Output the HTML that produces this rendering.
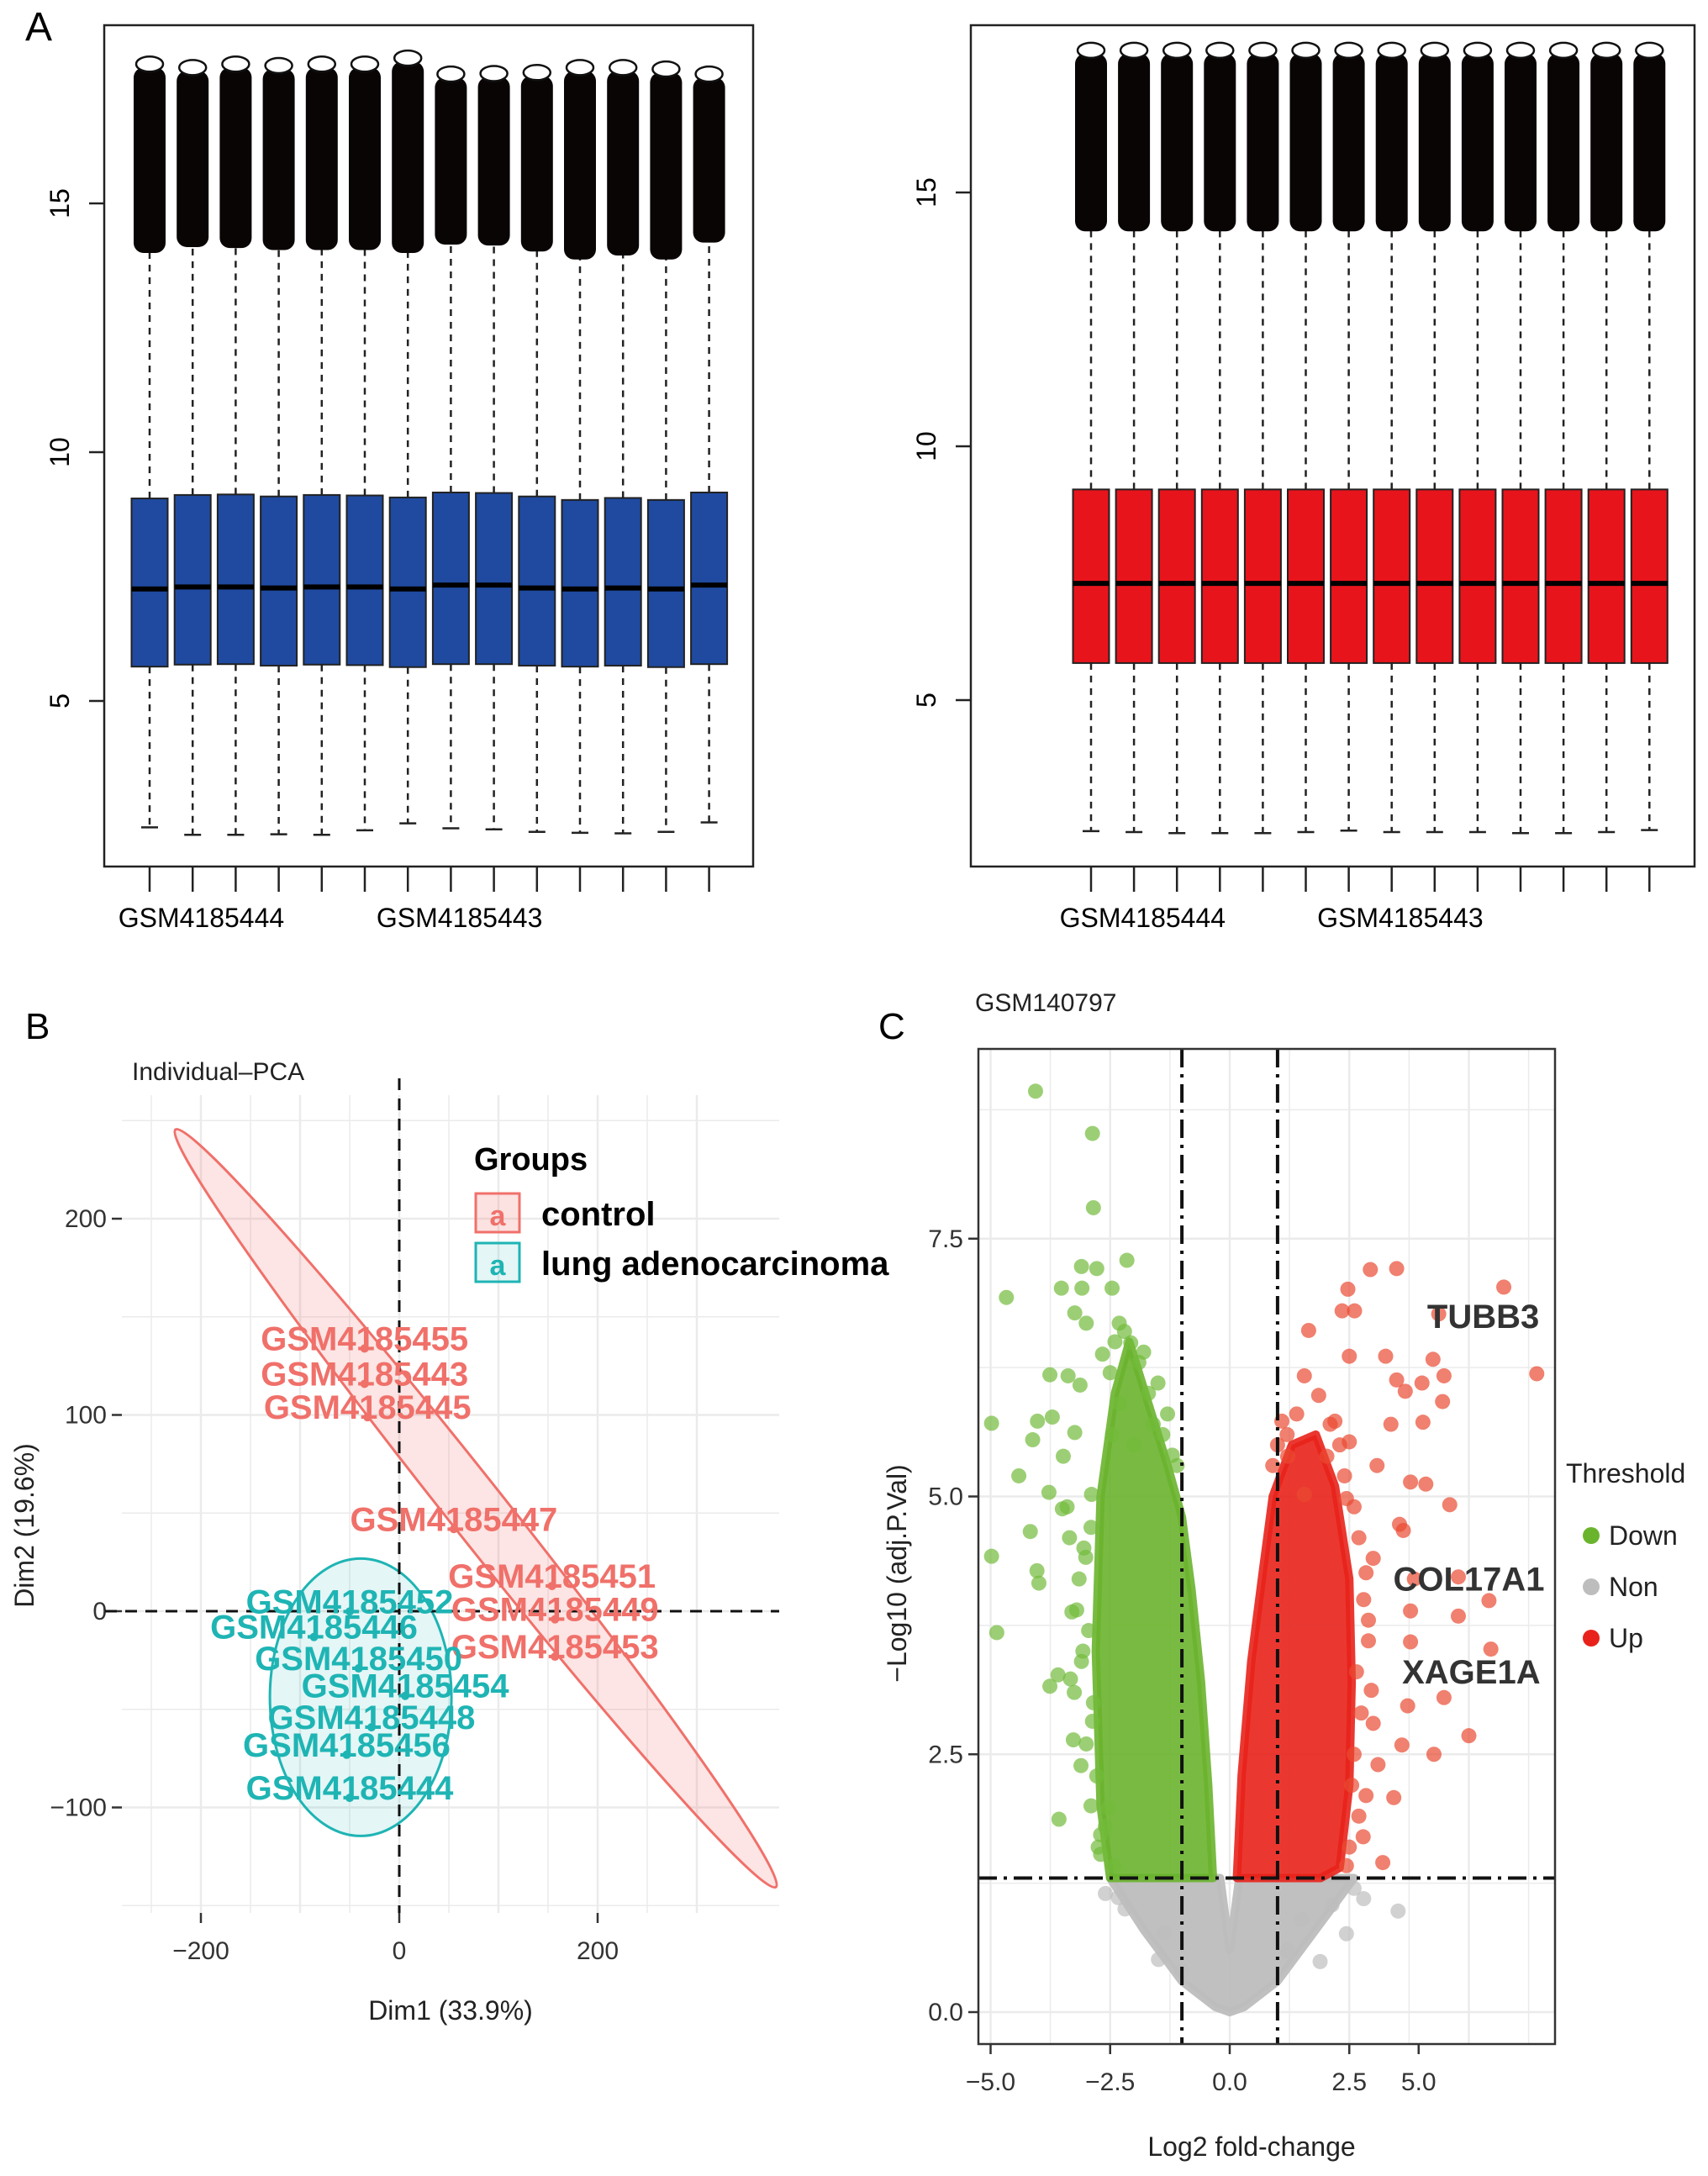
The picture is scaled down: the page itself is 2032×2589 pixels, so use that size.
<!DOCTYPE html>
<html><head><meta charset="utf-8">
<style>
html,body{margin:0;padding:0;background:#fff;}
svg{display:block;font-family:"Liberation Sans",sans-serif;}
</style></head>
<body>
<svg id="fig" width="2032" height="2589" viewBox="0 0 2032 2589" xmlns="http://www.w3.org/2000/svg">
<text x="30" y="48" font-size="48">A</text>
<text x="30" y="1236" font-size="44">B</text>
<text x="1045" y="1236" font-size="44">C</text>
<g id="boxL"></g>
<g id="boxR"></g>
<g id="pca"></g>
<g id="volc"></g>
</svg>
<script>
// ---------- Panel A data ----------
const boxSamples = ["S1","S2","S3","S4","S5","S6","S7","S8","S9","S10","S11","S12","S13","S14"];
const rawQ1 = [5.69,5.73,5.74,5.71,5.73,5.72,5.68,5.74,5.74,5.71,5.69,5.71,5.68,5.74];
const rawMed = [7.25,7.29,7.29,7.27,7.29,7.29,7.25,7.33,7.33,7.27,7.25,7.27,7.25,7.33];
const rawQ3 = [9.07,9.14,9.15,9.11,9.14,9.13,9.09,9.19,9.18,9.11,9.04,9.08,9.04,9.19];
const rawLow = [2.46,2.31,2.31,2.32,2.31,2.40,2.54,2.44,2.42,2.37,2.35,2.34,2.37,2.56];
const rawOutMin = [14.07,14.19,14.17,14.13,14.13,14.13,14.07,14.24,14.22,14.10,13.94,14.02,13.94,14.28];
const rawOutMax = [17.80,17.73,17.80,17.77,17.80,17.80,17.92,17.60,17.61,17.63,17.73,17.73,17.70,17.60];
const normQ1 = [5.73,5.73,5.73,5.73,5.73,5.73,5.73,5.73,5.73,5.73,5.73,5.73,5.73,5.73];
const normMed = [7.30,7.30,7.30,7.30,7.30,7.30,7.30,7.30,7.30,7.30,7.30,7.30,7.30,7.30];
const normQ3 = [9.15,9.15,9.15,9.15,9.15,9.15,9.15,9.15,9.15,9.15,9.15,9.15,9.15,9.15];
const normLow = [2.42,2.40,2.38,2.38,2.38,2.40,2.43,2.40,2.40,2.40,2.38,2.38,2.40,2.44];
const normOutMin = [14.30,14.30,14.30,14.30,14.30,14.30,14.30,14.30,14.30,14.30,14.30,14.30,14.30,14.30];
const normOutMax = [17.80,17.80,17.80,17.80,17.80,17.80,17.80,17.80,17.80,17.80,17.80,17.80,17.80,17.80];
const boxYTicks = [5,10,15];
const boxXLabels = ["GSM4185444","GSM4185443"];
const boxXLabelIdx = [1.2,7.2];

// ---------- Panel B data ----------
const pcaSamples = ["GSM4185455","GSM4185443","GSM4185445","GSM4185447","GSM4185451","GSM4185449","GSM4185453","GSM4185452","GSM4185446","GSM4185450","GSM4185454","GSM4185448","GSM4185456","GSM4185444"];
const pcaGroup = ["c","c","c","c","c","c","c","l","l","l","l","l","l","l"];
const pcaDim1 = [-35,-35,-32,55,154,157,157,-50,-86,-41,6,-28,-53,-50];
const pcaDim2 = [139,121,104,47,18,1,-18,5,-8,-24,-38,-54,-68,-90];
const pcaXTicks = [-200,0,200];
const pcaYTicks = [-100,0,100,200];

// ---------- Panel C data ----------
const volcXTicks = [-5,-2.5,0,2.5,3.95];
const volcXTickLabels = ["-5.0","-2.5","0.0","2.5","5.0"];
const volcYTicks = [0,2.5,5,7.5];
const downX = [-4.06,-2.87,-2.85,-2.15,-3.1,-2.78,-4.67,-3.52,-3.09,-2.46,-3.24,-3.0,-3.76,-3.38,-4.98,-4.02,-4.12,-4.41,-3.78,-3.5,-4.17,-4.98,-4.03,-3.99,-4.87,-3.59,-3.76,-3.33,-2.87,-3.27,-3.11,-3.57,-2.7,-2.7,-2.42,-3.71,-3.24,-3.48,-3.13,-2.66,-3.01,-3.3,-3.07,-2.78,-2.54,-2.31,-2.07,-2.89,
 -2.9,-3.05,-3.15,-3.2,-2.95,-3.1,-2.85,-3.25,-3.0,-2.9,-2.75,-2.6,-3.4,-3.35,-2.5,-2.4,-2.2,-1.9,-1.7,-1.5,-1.3,-1.6,-1.8,-2.3,-2.45,-2.0,-1.4,-1.2,-1.1];
const downY = [8.93,8.52,7.8,7.29,7.23,7.21,6.93,7.02,7.02,7.02,6.78,6.68,6.18,6.17,5.71,5.73,5.55,5.2,5.04,4.88,4.66,4.42,4.28,4.16,3.68,3.27,3.16,3.23,2.82,2.64,2.39,1.87,1.72,1.53,1.42,5.77,5.62,5.39,6.08,6.38,4.41,3.88,3.5,2.29,1.98,6.68,6.49,5.02,
 4.7,4.5,4.2,3.9,3.7,3.4,3.0,3.1,2.6,2.0,1.6,1.8,4.9,4.6,6.2,6.5,6.6,6.3,6.0,6.1,5.8,5.7,6.4,5.9,5.6,5.5,5.6,5.4,5.3];
const upX = [5.73,6.42,5.42,5.46,2.94,3.49,2.47,2.35,2.61,4.37,1.65,4.25,4.48,4.02,3.49,2.5,3.26,1.56,1.86,3.67,4.45,4.04,2.2,2.5,3.37,1.09,3.08,3.78,4.1,4.6,2.44,3.55,3.63,3.86,4.78,3.78,4.78,3.78,4.48,3.72,5.0,4.27,3.6,3.43,2.79,3.2,2.44,2.96,2.85,2.03,1.21,1.56,
 2.7,2.8,2.9,2.65,2.75,3.0,2.6,2.55,2.85,3.1,2.7,2.5,2.9,3.0,2.6,1.0,1.2,1.4,0.9,2.3,2.1,2.4];
const upY = [7.03,6.19,3.99,3.52,7.2,7.21,7.01,6.8,6.8,6.77,6.61,6.33,6.17,6.1,6.13,6.36,6.36,6.17,5.98,6.02,5.92,5.72,5.73,5.53,5.7,5.73,5.3,5.14,5.12,4.92,4.98,4.73,4.67,4.2,4.22,3.89,3.84,3.59,3.05,2.97,2.68,2.5,2.59,2.08,1.7,1.45,1.42,3.12,4.26,5.39,5.39,5.02,
 4.6,4.0,3.6,3.3,2.9,2.8,2.5,2.2,2.1,2.4,1.9,1.6,3.8,4.4,4.9,5.5,5.6,5.8,5.3,5.5,5.7,5.2];
const nonX = [3.52,2.44,1.89,2.14,-2.19,-2.33,-1.49,-1.37,2.6,2.8,-2.6,1.5,1.2,-1.0];
const nonY = [0.98,0.76,0.49,1.04,1.0,1.11,0.51,0.77,1.2,1.1,1.15,0.9,0.6,0.4];
const downCoreX = [-0.35,-0.45,-0.6,-0.8,-1.0,-1.3,-1.7,-2.1,-2.4,-2.7,-2.8,-2.7,-2.5];
const downCoreY = [1.3,2.2,3.2,4.1,4.8,5.3,5.9,6.5,6.0,5.0,3.5,2.0,1.3];
const upCoreX = [0.15,0.25,0.45,0.7,0.9,1.3,1.8,2.2,2.5,2.55,2.5,2.3,1.9];
const upCoreY = [1.3,2.3,3.4,4.3,5.0,5.5,5.6,5.1,4.2,3.2,2.2,1.4,1.3];
const nonCoreX = [-2.5,-0.2,0,0.2,2.6,1.8,1.0,0.3,0,-0.3,-1.0,-1.8];
const nonCoreY = [1.3,1.3,0.6,1.3,1.3,0.8,0.3,0.05,0,0.05,0.3,0.8];
const geneLabels = ["TUBB3","COL17A1","XAGE1A"];
const geneX = [5.3,5.0,5.05];
const geneY = [6.75,4.2,3.3];

const NS="http://www.w3.org/2000/svg";
function mk(parent, tag, attrs, text){
  const e=document.createElementNS(NS,tag);
  for(const k in attrs) e.setAttribute(k,attrs[k]);
  if(text!==undefined) e.textContent=text;
  parent.appendChild(e); return e;
}

// ---------- Panel A ----------
function drawBox(gid, box, y10, unit, x0, dx, fill, q1,med,q3,low,omin,omax){
  const g=document.getElementById(gid);
  const Y=v=>y10-(v-10)*unit;
  const X=i=>x0+i*dx;
  const frame=mk(g,'rect',{x:box[0],y:box[1],width:box[2]-box[0],height:box[3]-box[1],fill:'none',stroke:'#222','stroke-width':2.5});
  
  
  boxYTicks.forEach(t=>{
    const y=Y(t);
    const tl=mk(g,'line',{x1:box[0]-18,x2:box[0],y1:y,y2:y,stroke:'#222','stroke-width':2.5});
    
    
    const tx=mk(g,'text',{x:box[0]-42,y:y,'font-size':32,'text-anchor':'middle',transform:`rotate(-90 ${box[0]-42} ${y})`},String(t));
    
    
  });
  boxSamples.forEach((s,i)=>{
    const x=X(i), w=43;
    const tk=mk(g,'line',{x1:x,x2:x,y1:box[3],y2:box[3]+30,stroke:'#222','stroke-width':2.5});
    
    
    const wh=mk(g,'line',{x1:x,x2:x,y1:Y(q3[i]),y2:Y(omin[i]),stroke:'#222','stroke-width':2.5,'stroke-dasharray':'8 7'});
    
    
    const wl=mk(g,'line',{x1:x,x2:x,y1:Y(q1[i]),y2:Y(low[i]),stroke:'#222','stroke-width':2.5,'stroke-dasharray':'8 7'});
    
    
    const cap=mk(g,'line',{x1:x-10,x2:x+10,y1:Y(low[i]),y2:Y(low[i]),stroke:'#222','stroke-width':2.5});
    
    
    const out=mk(g,'rect',{x:x-19,y:Y(omax[i])+4,width:38,height:Y(omin[i])-Y(omax[i]),rx:12,fill:'#0a0505'});
    
    
    const oc=mk(g,'ellipse',{cx:x,cy:Y(omax[i]),rx:16,ry:9,fill:'#fff',stroke:'#111','stroke-width':2.5});
    
    
    const r=mk(g,'rect',{x:x-w/2,y:Y(q3[i]),width:w,height:Y(q1[i])-Y(q3[i]),fill:fill,stroke:'#222','stroke-width':2});
    
    
    const m=mk(g,'line',{x1:x-w/2,x2:x+w/2,y1:Y(med[i]),y2:Y(med[i]),stroke:'#000','stroke-width':6});
    
    
  });
  boxXLabels.forEach((l,k)=>{
    const t=mk(g,'text',{x:X(boxXLabelIdx[k]),y:box[3]+72,'font-size':32,'text-anchor':'middle'},l);
    
    
  });
}
drawBox('boxL',[124,30,896,1031],538,59.2,178,51.2,'#1f4aa0',rawQ1,rawMed,rawQ3,rawLow,rawOutMin,rawOutMax);
drawBox('boxR',[1155,30,2016,1031],531,60.4,1298,51.1,'#e8141c',normQ1,normMed,normQ3,normLow,normOutMin,normOutMax);

// ---------- Panel B ----------
(function(){
  const g=document.getElementById('pca');
  const X=v=>475+v*1.18, Y=v=>1917-v*2.335;
  const L=145,R=927,T=1303,B=2276;
  const red='#f0706a', cyan='#1fb4b4';
  const tt=mk(g,'text',{x:157,y:1285,'font-size':30,fill:'#222'},'Individual\u2013PCA');
  
  
  for(let v=-250;v<=300;v+=50){
    if(X(v)<L||X(v)>R) continue;
    const gl=mk(g,'line',{x1:X(v),x2:X(v),y1:T,y2:B,stroke:'#ebebeb','stroke-width':v%100==0?2.5:1.5});
    
    
  }
  for(let v=-150;v<=250;v+=50){
    if(Y(v)<T||Y(v)>B) continue;
    const gl=mk(g,'line',{x1:L,x2:R,y1:Y(v),y2:Y(v),stroke:'#ebebeb','stroke-width':v%100==0?2.5:1.5});
    
    
  }
  pcaXTicks.forEach(t=>{
    const a=mk(g,'line',{x1:X(t),x2:X(t),y1:B,y2:B+12,stroke:'#333','stroke-width':2.5});
    
    
    const b=mk(g,'text',{x:X(t),y:B+55,'font-size':30,'text-anchor':'middle',fill:'#333'},t<0?'\u2212'+(-t):String(t));
    
    
  });
  pcaYTicks.forEach(t=>{
    const a=mk(g,'line',{x1:L-12,x2:L,y1:Y(t),y2:Y(t),stroke:'#333','stroke-width':2.5});
    
    
    const b=mk(g,'text',{x:L-18,y:Y(t)+10,'font-size':30,'text-anchor':'end',fill:'#333'},t<0?'\u2212'+(-t):String(t));
    
    
  });
  function meanOf(arr,grp){const v=arr.filter((_,i)=>pcaGroup[i]==grp);return v.reduce((a,b)=>a+b,0)/v.length;}
  const cx=meanOf(pcaDim1,'c'), cy=meanOf(pcaDim2,'c');
  const e1=mk(g,'ellipse',{cx:X(cx)+20,cy:Y(cy)+15,rx:575,ry:34,transform:`rotate(51.6 ${X(cx)+20} ${Y(cy)+15})`,fill:'rgba(240,112,106,0.18)',stroke:red,'stroke-width':3});
  
  
  const lx=meanOf(pcaDim1,'l'), ly=meanOf(pcaDim2,'l');
  const e2=mk(g,'ellipse',{cx:X(lx)+5,cy:Y(ly)+10,rx:108,ry:165,fill:'rgba(31,180,180,0.12)',stroke:cyan,'stroke-width':3});
  
  
  const d1=mk(g,'line',{x1:X(0),x2:X(0),y1:T-20,y2:B,stroke:'#111','stroke-width':3,'stroke-dasharray':'14 10'});
  
  
  const d2=mk(g,'line',{x1:L-20,x2:R,y1:Y(0),y2:Y(0),stroke:'#111','stroke-width':3,'stroke-dasharray':'14 10'});
  
  
  pcaSamples.forEach((s,i)=>{
    const col=pcaGroup[i]=='c'?red:cyan;
    const p=mk(g,'circle',{cx:X(pcaDim1[i]),cy:Y(pcaDim2[i])+12,r:5,fill:col});
    
    
    const t=mk(g,'text',{x:X(pcaDim1[i]),y:Y(pcaDim2[i])+14,'font-size':40,'font-weight':'bold','text-anchor':'middle',fill:col},s);
    
    
  });
  const xl=mk(g,'text',{x:536,y:2403,'font-size':32,'text-anchor':'middle',fill:'#222'},'Dim1 (33.9%)');
  
  
  const yl=mk(g,'text',{x:40,y:1815,'font-size':32,'text-anchor':'middle',fill:'#222',transform:'rotate(-90 40 1815)'},'Dim2 (19.6%)');
  
  
  const lt=mk(g,'text',{x:564,y:1392,'font-size':38,'font-weight':'bold'},'Groups');
  
  
  [['control',red,'rgba(240,112,106,0.2)',1446],['lung adenocarcinoma',cyan,'rgba(31,180,180,0.12)',1505]].forEach(d=>{
    const r=mk(g,'rect',{x:566,y:d[3]-26,width:52,height:46,fill:d[2],stroke:d[1],'stroke-width':3});
    
    
    const a=mk(g,'text',{x:592,y:d[3]+12,'font-size':34,'font-weight':'bold','text-anchor':'middle',fill:d[1]},'a');
    
    
    const t=mk(g,'text',{x:644,y:d[3]+12,'font-size':40,'font-weight':'bold'},d[0]);
    
    
  });
})();

// ---------- Panel C ----------
(function(){
  const g=document.getElementById('volc');
  const X=v=>1463+v*56.9, Y=v=>2394-v*122.7;
  const L=1164,R=1850,T=1248,B=2432;
  const green='#6ab42d', red='#e8221b', grey='#bdbdbd';
  const tt=mk(g,'text',{x:1160,y:1203,'font-size':30,fill:'#222'},'GSM140797');
  
  
  for(let v=-5;v<=6.5;v+=1.25){
    const gl=mk(g,'line',{x1:X(v),x2:X(v),y1:T,y2:B,stroke:'#ebebeb','stroke-width':(Math.abs(v/2.5-Math.round(v/2.5))<0.01)?2.5:1.5});
    
    
  }
  for(let v=0;v<=8.75;v+=1.25){
    const gl=mk(g,'line',{x1:L,x2:R,y1:Y(v),y2:Y(v),stroke:'#ebebeb','stroke-width':(v%2.5==0)?2.5:1.5});
    
    
  }
  function poly(xs,ys,col,name,op){
    const p=mk(g,'polygon',{points:xs.map((x,i)=>X(x)+','+Y(ys[i])).join(' '),fill:col,stroke:col,'stroke-width':10,'stroke-linejoin':'round','fill-opacity':op,'stroke-opacity':op});
    
    
  }
  poly(nonCoreX,nonCoreY,grey,'non-significant-density',0.95);
  poly(downCoreX,downCoreY,green,'down-density',0.9);
  poly(upCoreX,upCoreY,red,'up-density',0.9);
  function pts(xs,ys,col,name){
    xs.forEach((x,i)=>{
      const c=mk(g,'circle',{cx:X(x),cy:Y(ys[i]),r:9,fill:col,'fill-opacity':0.7});
      
      
    });
  }
  pts(nonX,nonY,grey,'non-point');
  pts(downX,downY,'#72ba3a','down-point');
  pts(upX,upY,'#ea4a32','up-point');
  [-1,1].forEach(v=>{
    const l=mk(g,'line',{x1:X(v),x2:X(v),y1:T,y2:B,stroke:'#111','stroke-width':4,'stroke-dasharray':'22 8 4 8'});
    
    
  });
  const h=mk(g,'line',{x1:L,x2:R,y1:Y(1.3),y2:Y(1.3),stroke:'#111','stroke-width':4,'stroke-dasharray':'22 8 4 8'});
  
  
  const fr=mk(g,'rect',{x:L,y:T,width:R-L,height:B-T,fill:'none',stroke:'#333','stroke-width':2.5});
  
  
  geneLabels.forEach((s,i)=>{
    const t=mk(g,'text',{x:X(geneX[i]),y:Y(geneY[i])+14,'font-size':40,'font-weight':'bold','text-anchor':'middle',fill:'#333'},s);
    
    
  });
  volcXTicks.forEach((t,i)=>{
    const a=mk(g,'line',{x1:X(t),x2:X(t),y1:B,y2:B+12,stroke:'#333','stroke-width':2.5});
    
    
    const b=mk(g,'text',{x:X(t),y:B+55,'font-size':30,'text-anchor':'middle',fill:'#333'},volcXTickLabels[i].replace('-','\u2212'));
    
    
  });
  volcYTicks.forEach(t=>{
    const a=mk(g,'line',{x1:L-12,x2:L,y1:Y(t),y2:Y(t),stroke:'#333','stroke-width':2.5});
    
    
    const b=mk(g,'text',{x:L-18,y:Y(t)+10,'font-size':30,'text-anchor':'end',fill:'#333'},t.toFixed(1));
    
    
  });
  const xl=mk(g,'text',{x:1489,y:2565,'font-size':32,'text-anchor':'middle',fill:'#222'},'Log2 fold-change');
  
  
  const yl=mk(g,'text',{x:1078,y:1872,'font-size':32,'text-anchor':'middle',fill:'#222',transform:'rotate(-90 1078 1872)'},'\u2212Log10 (adj.P.Val)');
  
  
  const lt=mk(g,'text',{x:1863,y:1764,'font-size':32,fill:'#222'},'Threshold');
  
  
  [['Down',green,1827],['Non',grey,1888],['Up',red,1949]].forEach(d=>{
    const c=mk(g,'circle',{cx:1893,cy:d[2],r:10,fill:d[1]});
    
    
    const t=mk(g,'text',{x:1914,y:d[2]+11,'font-size':32,fill:'#222'},d[0]);
    
    
  });
})();
</script>
</body></html>
